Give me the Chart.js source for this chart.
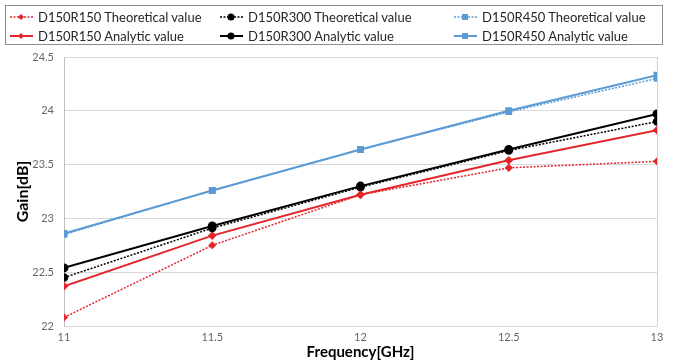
<!DOCTYPE html>
<html>
<head>
<meta charset="utf-8">
<script src="https://cdn.jsdelivr.net/npm/chart.js@4/dist/chart.umd.min.js"></script>
<style>
  html, body { margin: 0; padding: 0; background: #fff; }
  #wrap { position: relative; width: 673px; height: 363px; }
  #legend {
    position: absolute; left: 5px; top: 5px; width: 658px; height: 40px;
    border: 1px solid #8c8c8c; box-sizing: border-box;
    display: grid; grid-template-columns: 210px 234px auto; grid-template-rows: 19px 19px;
    padding: 1px 0 0 3px;
    font: 13px Lato, sans-serif; color: #262626;
  }
  .item { display: flex; align-items: center; white-space: nowrap; }
  .item svg { margin-right: 4px; flex: none; }
</style>
</head>
<body>
<div id="wrap">
  <canvas id="gainChart" width="673" height="363"></canvas>
  <div id="legend"></div>
</div>
<script>
// frequency points (GHz)
const freq = [11, 11.5, 12, 12.5, 13];

// gain values (dB)
const r150Theo = [22.08, 22.75, 23.22, 23.47, 23.53];
const r150Ana  = [22.37, 22.84, 23.22, 23.54, 23.82];
const r300Theo = [22.45, 22.91, 23.29, 23.63, 23.90];
const r300Ana  = [22.54, 22.93, 23.30, 23.64, 23.97];
const r450Theo = [22.85, 23.26, 23.64, 23.99, 24.30];
const r450Ana  = [22.86, 23.26, 23.64, 24.00, 24.33];

const xTicks = [11, 11.5, 12, 12.5, 13];
const yTicks = [22, 22.5, 23, 23.5, 24, 24.5];

const RED = '#e3262b', BLACK = '#000000', BLUE = '#5b9bd5';

function series(label, values, color, style, radius, dotted) {
  return {
    label: label,
    data: freq.map((f, i) => ({ x: f, y: values[i] })),
    borderColor: color,
    backgroundColor: color,
    borderWidth: dotted ? 1.5 : 2,
    borderDash: dotted ? [2, 1.5] : [],
    pointStyle: style,
    pointRadius: radius,
    pointHoverRadius: radius,
    tension: 0
  };
}

// legend order: theoretical row first, analytic row second
const datasets = [
  series('D150R150 Theoretical value', r150Theo, RED, 'rectRot', 3, true),
  series('D150R300 Theoretical value', r300Theo, BLACK, 'circle', 3.5, true),
  series('D150R450 Theoretical value', r450Theo, BLUE, 'rect', 3.5, true),
  series('D150R150 Analytic value', r150Ana, RED, 'rectRot', 3, false),
  series('D150R300 Analytic value', r300Ana, BLACK, 'circle', 3.5, false),
  series('D150R450 Analytic value', r450Ana, BLUE, 'rect', 3.5, false)
];

// html legend, 3 columns x 2 rows like the original
function markerSvg(ds) {
  const dash = ds.borderDash.length ? 'stroke-dasharray="2 1.5"' : '';
  let m;
  if (ds.pointStyle === 'circle') m = `<circle cx="12" cy="6" r="3.5" fill="${ds.borderColor}"/>`;
  else if (ds.pointStyle === 'rect') m = `<rect x="9" y="3" width="6" height="6" fill="${ds.borderColor}"/>`;
  else m = `<polygon points="12,3 15,6 12,9 9,6" fill="${ds.borderColor}"/>`;
  return `<svg width="25" height="12"><line x1="1" y1="6" x2="24" y2="6" stroke="${ds.borderColor}" stroke-width="${ds.borderWidth}" ${dash}/>${m}</svg>`;
}
const legend = document.getElementById('legend');
datasets.forEach(ds => {
  const div = document.createElement('div');
  div.className = 'item';
  div.innerHTML = markerSvg(ds) + '<span>' + ds.label + '</span>';
  legend.appendChild(div);
});

const tickFont = { family: 'Lato', size: 11 };

new Chart(document.getElementById('gainChart'), {
  type: 'line',
  data: { datasets: datasets },
  options: {
    responsive: false,
    animation: false,
    layout: { padding: { top: 57, right: 16, left: 0, bottom: 0 } },
    plugins: { legend: { display: false }, tooltip: { enabled: false } },
    scales: {
      x: {
        type: 'linear', min: 11, max: 13,
        afterBuildTicks: s => { s.ticks = xTicks.map(v => ({ value: v })); },
        afterFit: s => { s.height = 37; },
        ticks: { color: '#666', font: tickFont, padding: 5, callback: v => String(v) },
        grid: {
          drawTicks: false,
          color: c => (c.tick && (c.tick.value === 11 || c.tick.value === 13)) ? '#d0d0d0' : 'transparent'
        },
        border: { color: '#d9d9d9' },
        title: {
          display: true, text: 'Frequency[GHz]', color: '#000',
          font: { family: 'Lato', size: 15, weight: 'bold' }, padding: { top: -6, bottom: 2 }
        }
      },
      y: {
        min: 22, max: 24.5,
        afterBuildTicks: s => { s.ticks = yTicks.map(v => ({ value: v })); },
        afterFit: s => { s.width = 64; },
        ticks: { color: '#666', font: tickFont, padding: 10, callback: v => String(v) },
        grid: { drawTicks: false, color: '#d9d9d9' },
        border: { color: '#bfbfbf' },
        title: {
          display: true, text: 'Gain[dB]', color: '#000',
          font: { family: 'Lato', size: 16, weight: 'bold' }, padding: { top: 13, bottom: 0 }
        }
      }
    }
  }
});
</script>
</body>
</html>
